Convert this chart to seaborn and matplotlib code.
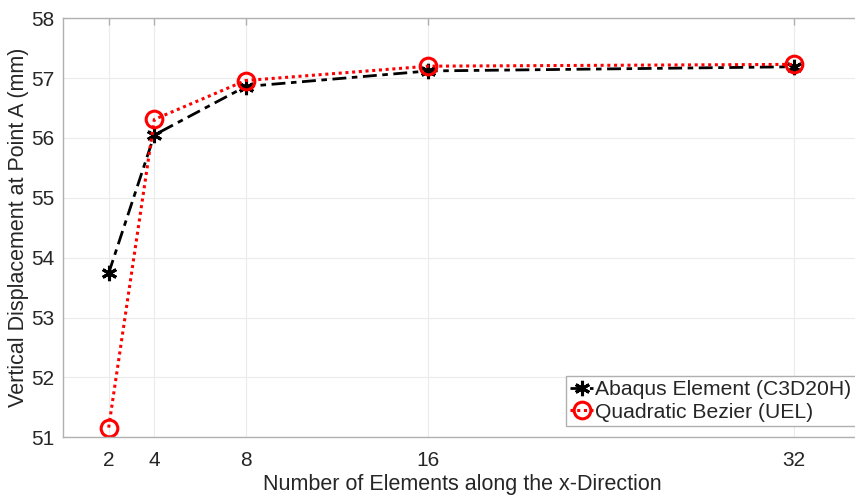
import numpy as np
import pandas as pd
import matplotlib
matplotlib.use("Agg")
import matplotlib.pyplot as plt
import seaborn as sns

elements = [2, 4, 8, 16, 32]
abaqus = [53.74, 56.05, 56.86, 57.12, 57.19]
bezier = [51.16, 56.31, 56.96, 57.20, 57.23]
xticks = [2, 4, 8, 16, 32]
yticks = [51, 52, 53, 54, 55, 56, 57, 58]
labels = ["Abaqus Element (C3D20H)", "Quadratic Bezier (UEL)"]

sns.set_theme(style="white")
plt.rcParams['font.family'] = ['Liberation Sans', 'DejaVu Sans']

fig = plt.figure(figsize=(8.55, 4.95), dpi=100)
ax = fig.add_axes([63/855, 57.8/495, 799/855, 418.9/495])

df = pd.DataFrame({"n": elements, "abaqus": abaqus, "bezier": bezier})

sns.lineplot(data=df, x="n", y="abaqus", ax=ax, color="black",
             linestyle=(0, (5, 2, 2, 2)), linewidth=2.0,
             marker=(6, 2, 0), markersize=11, markeredgewidth=2.2,
             markeredgecolor="black", label=labels[0])
sns.lineplot(data=df, x="n", y="bezier", ax=ax, color="red",
             linestyle=(0, (1, 1.2)), linewidth=2.2,
             marker="o", markersize=12, markeredgewidth=2.2,
             markerfacecolor="none", markeredgecolor="red", label=labels[1])

ax.set_xlim(0, 35)
ax.set_ylim(51, 58)
ax.set_xticks(xticks)
ax.set_yticks(yticks)
ax.grid(True, color="#ebebeb", linewidth=0.8)
ax.set_axisbelow(True)
for s in ax.spines.values():
    s.set_visible(True)
    s.set_color("#b0b0b0")
    s.set_linewidth(1.0)
ax.tick_params(axis="both", direction="in", length=5, width=1.0,
               color="#b0b0b0", labelsize=15, labelcolor="#262626",
               top=True, right=True)
ax.tick_params(axis="x", pad=10)
ax.tick_params(axis="y", pad=6)
ax.set_xlabel("Number of Elements along the x-Direction", fontsize=15.5,
              color="#262626", labelpad=3)
ax.set_ylabel("Vertical Displacement at Point A (mm)", fontsize=15.5,
              color="#262626", labelpad=1.5)

leg = ax.legend(loc="lower right", bbox_to_anchor=(1.0, 0.012),
                fontsize=15.2, frameon=True, fancybox=False,
                edgecolor="#b0b0b0", framealpha=1, handlelength=1.1,
                handletextpad=0.1, borderpad=0.2, labelspacing=0.15,
                borderaxespad=0.3)
leg.get_frame().set_linewidth(1.0)

fig.savefig("out.png", dpi=100)
